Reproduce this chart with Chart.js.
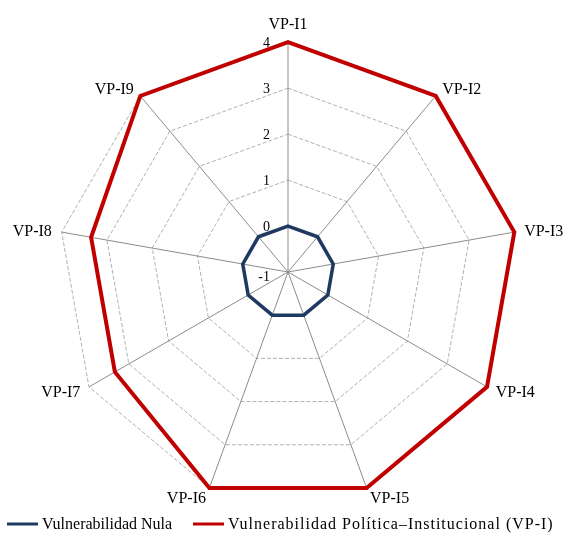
<!DOCTYPE html>
<html>
<head>
<meta charset="utf-8">
<script src="https://cdn.jsdelivr.net/npm/chart.js@4.4.1/dist/chart.umd.min.js"></script>
<style>
  html, body { margin: 0; padding: 0; background: #fff; }
  #wrap { width: 566px; height: 533px; }
</style>
</head>
<body>
<div id="wrap"><canvas id="c" width="566" height="533"></canvas></div>
<script>
// Radar axes
const categories = ['VP-I1', 'VP-I2', 'VP-I3', 'VP-I4', 'VP-I5', 'VP-I6', 'VP-I7', 'VP-I8', 'VP-I9'];
// Series
const nulaValues = [0, 0, 0, 0, 0, 0, 0, 0, 0];
const politicaValues = [4, 4, 4, 4, 4, 4, 3.35, 3.35, 4];
// Radial scale ticks
const tickValues = [-1, 0, 1, 2, 3, 4];

const serif = '"Liberation Serif", "Times New Roman", serif';

// Writes the radial tick values just left of the first axis
const tickLabelPlugin = {
  id: 'tickLabels',
  afterDatasetsDraw(chart) {
    const scale = chart.scales.r;
    const ctx = chart.ctx;
    ctx.save();
    ctx.font = '14px ' + serif;
    ctx.fillStyle = '#000';
    ctx.textAlign = 'right';
    ctx.textBaseline = 'middle';
    tickValues.forEach(v => {
      const d = scale.getDistanceFromCenterForValue(v);
      const y = scale.yCenter - d + (v === -1 ? 5 : 1);
      ctx.fillText(String(v), scale.xCenter - 18, y);
    });
    ctx.restore();
  }
};

// Axis names, set just beyond each spoke end and centred on it vertically
const axisNamePlugin = {
  id: 'axisNames',
  afterDraw(chart) {
    const scale = chart.scales.r;
    const ctx = chart.ctx;
    ctx.save();
    ctx.font = '16px ' + serif;
    ctx.fillStyle = '#000';
    categories.forEach((name, i) => {
      const p = scale.getPointPosition(i, scale.drawingArea + 10);
      const deg = (scale.getIndexAngle(i) * 180 / Math.PI) % 360;
      if (deg < 0.5 || deg > 359.5) {
        ctx.textAlign = 'center';
        ctx.textBaseline = 'bottom';
        ctx.fillText(name, p.x, p.y + 1);
      } else {
        ctx.textAlign = deg < 180 ? 'left' : 'right';
        ctx.textBaseline = 'middle';
        ctx.fillText(name, p.x, p.y + 1);
      }
    });
    ctx.restore();
  }
};

// Legend row along the bottom edge: a short line sample then the series name
const legendRowPlugin = {
  id: 'legendRow',
  afterDraw(chart) {
    const ctx = chart.ctx;
    const items = [
      { ds: chart.data.datasets[0], x: 7, spacing: '0px' },
      { ds: chart.data.datasets[1], x: 193, spacing: '1px' }
    ];
    const y = 524;
    ctx.save();
    ctx.font = '16px ' + serif;
    ctx.textBaseline = 'middle';
    ctx.textAlign = 'left';
    items.forEach(it => {
      ctx.strokeStyle = it.ds.borderColor;
      ctx.lineWidth = 3;
      ctx.beginPath();
      ctx.moveTo(it.x, y);
      ctx.lineTo(it.x + 31, y);
      ctx.stroke();
      ctx.fillStyle = '#000';
      if ('letterSpacing' in ctx) ctx.letterSpacing = it.spacing;
      ctx.fillText(it.ds.label, it.x + 35, y + 1);
    });
    ctx.restore();
  }
};

new Chart(document.getElementById('c'), {
  type: 'radar',
  data: {
    labels: categories,
    datasets: [
      {
        label: 'Vulnerabilidad Nula',
        data: nulaValues,
        borderColor: '#1f3a60',
        backgroundColor: '#1f3a60',
        borderWidth: 3.5,
        pointRadius: 0,
        fill: false
      },
      {
        label: 'Vulnerabilidad Política–Institucional (VP-I)',
        data: politicaValues,
        borderColor: '#c00000',
        backgroundColor: '#c00000',
        borderWidth: 4,
        pointRadius: 0,
        fill: false
      }
    ]
  },
  options: {
    responsive: false,
    animation: false,
    layout: { padding: { left: 12, right: 0, top: 5, bottom: 9 } },
    plugins: {
      tooltip: { enabled: false },
      legend: { display: false }
    },
    scales: {
      r: {
        min: -1,
        max: 4,
        ticks: { stepSize: 1, display: false },
        grid: { color: '#b0b0b0', lineWidth: 1 },
        border: { dash: [4, 2] },
        angleLines: { color: '#8c8c8c', lineWidth: 1 },
        pointLabels: {
          font: { family: serif, size: 16 },
          color: 'rgba(0,0,0,0)',
          padding: 10
        }
      }
    }
  },
  plugins: [tickLabelPlugin, axisNamePlugin, legendRowPlugin]
});
</script>
</body>
</html>
